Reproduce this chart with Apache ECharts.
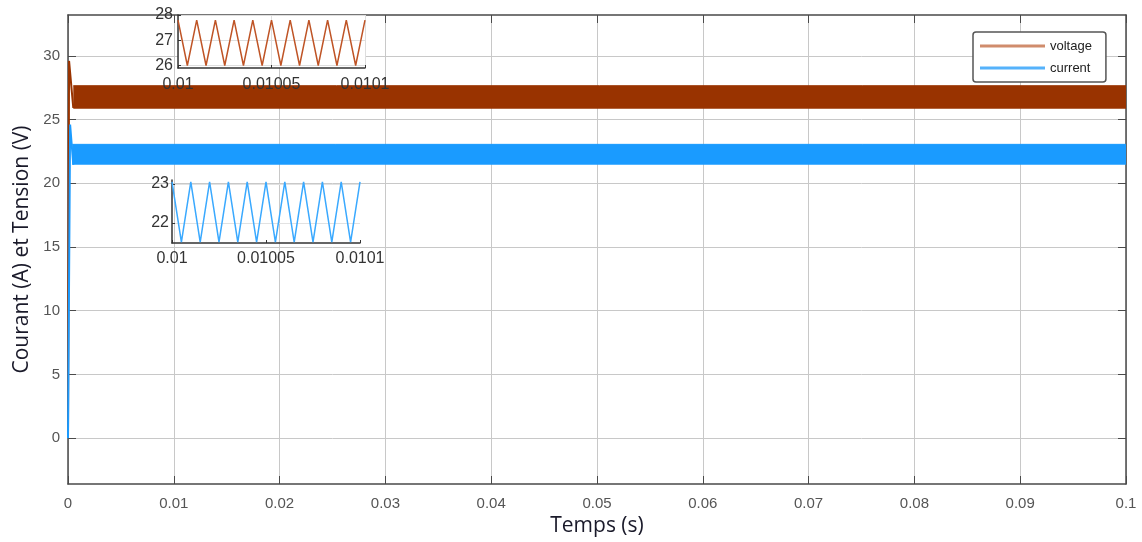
<!DOCTYPE html>
<html><head><meta charset="utf-8">
<script src="https://cdn.jsdelivr.net/npm/echarts@6/dist/echarts.min.js"></script>
<style>html,body{margin:0;padding:0;background:#fff}#c{width:1142px;height:542px}</style>
</head><body><div id="c"></div><script>
// ---- data ----
const xTicks = [0, 0.01, 0.02, 0.03, 0.04, 0.05, 0.06, 0.07, 0.08, 0.09, 0.1];
const xTickLabels = ['0', '0.01', '0.02', '0.03', '0.04', '0.05', '0.06', '0.07', '0.08', '0.09', '0.1'];
const yTicks = [0, 5, 10, 15, 20, 25, 30];
const voltageTransient = [[0, 0], [0.0001, 29.6], [0.0005, 25.9]];
const voltageBandTop = [[0.0005, 27.65], [0.1, 27.65]];
const voltageBandBottom = 25.85;
const currentTransient = [[0, 0], [0.0002, 24.6], [0.0005, 21.45]];
const currentBandTop = [[0.0004, 23.05], [0.1, 23.05]];
const currentBandBottom = 21.45;
const insetXTicks = [0.01, 0.01005, 0.0101];
const insetXTickLabels = ['0.01', '0.01005', '0.0101'];
const insetT = [0.01, 0.010005, 0.01001, 0.010015, 0.01002, 0.010025, 0.01003, 0.010035, 0.01004, 0.010045,
                0.01005, 0.010055, 0.01006, 0.010065, 0.01007, 0.010075, 0.01008, 0.010085, 0.01009, 0.010095, 0.0101];
const voltInsetV = [27.8, 26.0, 27.8, 26.0, 27.8, 26.0, 27.8, 26.0, 27.8, 26.0, 27.8,
                    26.0, 27.8, 26.0, 27.8, 26.0, 27.8, 26.0, 27.8, 26.0, 27.8];
const voltInsetYTicks = [26, 27, 28];
const currInsetV = [23.05, 21.5, 23.05, 21.5, 23.05, 21.5, 23.05, 21.5, 23.05, 21.5, 23.05,
                    21.5, 23.05, 21.5, 23.05, 21.5, 23.05, 21.5, 23.05, 21.5, 23.05];
const currInsetYTicks = [22, 23];

// ---- chart ----
const FONT = 'Liberation Sans';
const vColor = '#993300', cColor = '#1a9bff';
const zip = (t, v) => t.map((x, i) => [x, v[i]]);
const xLabelFmt = (ticks, labels) => (val) => {
  for (let i = 0; i < ticks.length; i++) if (Math.abs(val - ticks[i]) < 1e-9) return labels[i];
  return '';
};

const chart = echarts.init(document.getElementById('c'), null, {renderer: 'canvas'});
const mainX = {min: 0, max: 0.1};
const mainY = {min: -3.6, max: 33.2};
const tickLen = 8;

chart.setOption({
  animation: false,
  backgroundColor: '#fff',
  grid: [
    {left: 68, right: 16, top: 15, bottom: 58, z: 0},
    {left: 178, top: 15, width: 187, height: 53, show: true, backgroundColor: '#fff', borderWidth: 0, z: 1},
    {left: 172, top: 180, width: 188, height: 63, z: 1}
  ],
  legend: {
    orient: 'vertical', left: 973, top: 32, icon: 'rect', itemWidth: 65, itemHeight: 3, itemGap: 6,
    padding: [6, 14, 6, 7], borderColor: '#555', borderWidth: 1.5, borderRadius: 3, backgroundColor: '#fff',
    z: 20,
    textStyle: {fontFamily: FONT, fontSize: 13, color: '#222', lineHeight: 16},
    data: [
      {name: 'voltage', itemStyle: {color: '#d08c6c'}},
      {name: 'current', itemStyle: {color: '#55b2fb'}}
    ]
  },
  xAxis: [
    {gridIndex: 0, type: 'value', ...mainX, z: 0,
     name: 'Temps (s)', nameLocation: 'middle', nameGap: 30,
     nameTextStyle: {fontFamily: 'Open Sans', fontSize: 21, color: '#1a1a2a'},
     axisLine: {show: true, onZero: false, lineStyle: {color: '#4a4a4a', width: 1.5}},
     axisTick: {show: true, inside: true, length: tickLen, customValues: xTicks, lineStyle: {color: '#4a4a4a'}},
     axisLabel: {customValues: xTicks, formatter: xLabelFmt(xTicks, xTickLabels), margin: 12,
                 fontFamily: FONT, fontSize: 15, color: '#555'},
     splitLine: {show: true, lineStyle: {color: '#c8c8c8', width: 1}}},
    {gridIndex: 0, type: 'value', position: 'top', ...mainX, z: 0,
     axisLine: {show: true, onZero: false, lineStyle: {color: '#4a4a4a', width: 1.5}},
     axisTick: {show: true, inside: true, length: tickLen, customValues: xTicks, lineStyle: {color: '#4a4a4a'}},
     axisLabel: {show: false}, splitLine: {show: false}},
    {gridIndex: 1, type: 'value', min: 0.01, max: 0.0101, z: 5,
     axisLine: {show: true, onZero: false, lineStyle: {color: '#333', width: 1.5}},
     axisTick: {show: true, inside: true, length: 3, customValues: insetXTicks, lineStyle: {color: '#333'}},
     axisLabel: {customValues: insetXTicks, formatter: xLabelFmt(insetXTicks, insetXTickLabels), margin: 9,
                 fontFamily: FONT, fontSize: 16, color: '#333'},
     splitLine: {show: true, lineStyle: {color: '#dedede', width: 1}}},
    {gridIndex: 2, type: 'value', min: 0.01, max: 0.0101, z: 5,
     axisLine: {show: true, onZero: false, lineStyle: {color: '#333', width: 1.5}},
     axisTick: {show: true, inside: true, length: 3, customValues: insetXTicks, lineStyle: {color: '#333'}},
     axisLabel: {customValues: insetXTicks, formatter: xLabelFmt(insetXTicks, insetXTickLabels), margin: 8,
                 fontFamily: FONT, fontSize: 16, color: '#333'},
     splitLine: {show: false}}
  ],
  yAxis: [
    {gridIndex: 0, type: 'value', ...mainY, z: 0,
     name: 'Courant (A) et Tension (V)', nameLocation: 'middle', nameGap: 34,
     nameTextStyle: {fontFamily: 'Open Sans', fontSize: 21, color: '#1a1a2a'},
     axisLine: {show: true, onZero: false, lineStyle: {color: '#4a4a4a', width: 1.5}},
     axisTick: {show: true, inside: true, length: tickLen, customValues: yTicks, lineStyle: {color: '#4a4a4a'}},
     axisLabel: {customValues: yTicks, margin: 8, fontFamily: FONT, fontSize: 15, color: '#555'},
     splitLine: {show: true, lineStyle: {color: '#c8c8c8', width: 1}}},
    {gridIndex: 0, type: 'value', position: 'right', ...mainY, z: 0,
     axisLine: {show: true, onZero: false, lineStyle: {color: '#4a4a4a', width: 1.5}},
     axisTick: {show: true, inside: true, length: tickLen, customValues: yTicks, lineStyle: {color: '#4a4a4a'}},
     axisLabel: {show: false}, splitLine: {show: false}},
    {gridIndex: 1, type: 'value', min: 25.9, max: 28, z: 5,
     axisLine: {show: true, onZero: false, lineStyle: {color: '#333', width: 1.5}},
     axisTick: {show: true, inside: true, length: 3, customValues: voltInsetYTicks, lineStyle: {color: '#333'}},
     axisLabel: {customValues: voltInsetYTicks, margin: 5, fontFamily: FONT, fontSize: 16, color: '#333'},
     splitLine: {show: true, lineStyle: {color: '#dedede', width: 1}}},
    {gridIndex: 2, type: 'value', min: 21.48, max: 23.1, z: 5,
     axisLine: {show: true, onZero: false, lineStyle: {color: '#333', width: 1.5}},
     axisTick: {show: true, inside: true, length: 3, customValues: currInsetYTicks, lineStyle: {color: '#333'}},
     axisLabel: {customValues: currInsetYTicks, margin: 3, fontFamily: FONT, fontSize: 16, color: '#333'},
     splitLine: {show: true, lineStyle: {color: '#e2e2e2', width: 1}}}
  ],
  series: [
    {name: 'voltage', type: 'line', xAxisIndex: 0, yAxisIndex: 0, symbol: 'none', z: 3,
     data: voltageBandTop, lineStyle: {color: vColor, width: 1},
     areaStyle: {origin: voltageBandBottom, color: vColor, opacity: 1}},
    {name: 'voltage', type: 'line', xAxisIndex: 0, yAxisIndex: 0, symbol: 'none', z: 3,
     data: voltageTransient, lineStyle: {color: vColor, width: 2}},
    {name: 'current', type: 'line', xAxisIndex: 0, yAxisIndex: 0, symbol: 'none', z: 3,
     data: currentBandTop, lineStyle: {color: cColor, width: 1},
     areaStyle: {origin: currentBandBottom, color: cColor, opacity: 1}},
    {name: 'current', type: 'line', xAxisIndex: 0, yAxisIndex: 0, symbol: 'none', z: 3,
     data: currentTransient, lineStyle: {color: cColor, width: 2}},
    {name: 'voltage inset', type: 'line', xAxisIndex: 2, yAxisIndex: 2, symbol: 'none', z: 6,
     data: zip(insetT, voltInsetV), lineStyle: {color: '#bf5426', width: 1.5}},
    {name: 'current inset', type: 'line', xAxisIndex: 3, yAxisIndex: 3, symbol: 'none', z: 6,
     data: zip(insetT, currInsetV), lineStyle: {color: '#3aa9ff', width: 1.5}}
  ]
});
</script></body></html>
